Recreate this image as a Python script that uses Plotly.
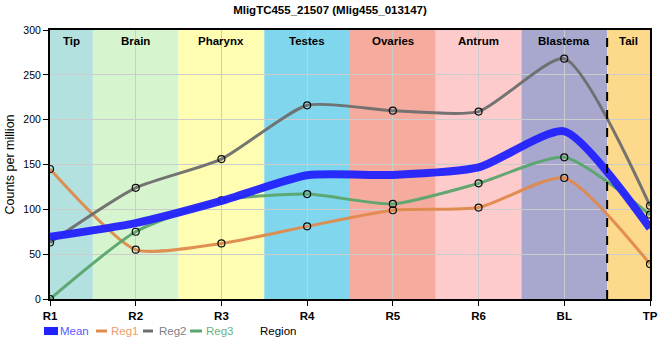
import plotly.graph_objects as go

categories = ["R1", "R2", "R3", "R4", "R5", "R6", "BL", "TP"]
reg1 = [145, 55, 62, 81, 99, 102, 135, 39]
reg2 = [63, 124, 156, 216, 210, 209, 268, 104]
reg3 = [0, 75, 110, 117, 106, 129, 158, 94]
mean = [round((a + b + c) / 3, 2) for a, b, c in zip(reg1, reg2, reg3)]

region_names = ["Tip", "Brain", "Pharynx", "Testes", "Ovaries", "Antrum", "Blastema", "Tail"]
region_spans = [(0, 0.5), (0.5, 1.5), (1.5, 2.5), (2.5, 3.5), (3.5, 4.5), (4.5, 5.5), (5.5, 6.5), (6.5, 7)]
region_colors = ["#b3e1df", "#d6f5cf", "#fefdb2", "#80d6ec", "#f6ab9f", "#fecbcd", "#a8a8cf", "#fdd98b"]

FONT = "Arial"

x = list(range(len(categories)))
fig = go.Figure()

for (x0, x1), c in zip(region_spans, region_colors):
    fig.add_shape(type="rect", xref="x", yref="paper", x0=x0, x1=x1, y0=0, y1=1,
                  fillcolor=c, line_width=0, layer="below")
for name, (x0, x1) in zip(region_names, region_spans):
    fig.add_annotation(x=(x0 + x1) / 2, y=1, xref="x", yref="paper", yanchor="top",
                       yshift=-3, text="<b>" + name + "</b>", showarrow=False,
                       font=dict(size=11.5, color="black", family=FONT))
fig.add_shape(type="line", xref="x", yref="paper", x0=6.5, x1=6.5, y0=0, y1=1,
              line=dict(color="black", width=2, dash="dash"))

series = [("Reg1", reg1, "#e08a4c", "#eea068"), ("Reg2", reg2, "#6e6e6e", "#808088"),
          ("Reg3", reg3, "#5aa66e", "#6cb27e")]
for name, vals, col, tcol in series:
    fig.add_trace(go.Scatter(
        x=x, y=vals, name=name, mode="lines+markers", showlegend=False,
        line=dict(color=col, width=3, shape="spline", smoothing=0.6),
        marker=dict(symbol="circle-open", size=7, color="black", line=dict(width=1.2, color="black")),
        opacity=0.95,
    ))
fig.add_trace(go.Scatter(
    x=x, y=mean, name="Mean", mode="lines", showlegend=False,
    line=dict(color="#2222ff", width=8, shape="spline", smoothing=0.6),
    opacity=0.95,
))

# custom compact legend (paper coordinates)
leg_y = -0.119
fig.add_shape(type="rect", xref="paper", yref="paper", x0=-0.01, x1=0.0133, y0=-0.134, y1=-0.104,
              fillcolor="#2222ff", line_width=0)
fig.add_annotation(x=0.014, y=leg_y, xref="paper", yref="paper", xanchor="left", yanchor="middle",
                   text="Mean", showarrow=False, font=dict(size=11.5, color="#5a5aff", family=FONT))
leg_pos = [(0.0767, 0.095, 0.099), (0.155, 0.1717, 0.179), (0.2333, 0.2533, 0.257)]
for (name, vals, col, tcol), (lx0, lx1, tx) in zip(series, leg_pos):
    fig.add_shape(type="line", xref="paper", yref="paper", x0=lx0, x1=lx1, y0=leg_y, y1=leg_y,
                  line=dict(color=col, width=3))
    fig.add_annotation(x=tx, y=leg_y, xref="paper", yref="paper", xanchor="left", yanchor="middle",
                       text=name, showarrow=False, font=dict(size=11.5, color=tcol, family=FONT))
fig.add_annotation(x=0.38, y=leg_y, xref="paper", yref="paper", xanchor="center", yanchor="middle",
                   text="Region", showarrow=False, font=dict(size=11.5, color="black", family=FONT))

fig.update_layout(
    width=660, height=360,
    margin=dict(l=50, r=10, t=30, b=61, autoexpand=False),
    paper_bgcolor="white", plot_bgcolor="white",
    font=dict(family=FONT, color="black"),
    title=dict(text="<b>MligTC455_21507 (Mlig455_013147)</b>", x=0.5, xanchor="center",
               y=0.972, yanchor="middle", font=dict(size=11.5, family=FONT)),
    showlegend=False,
)
fig.update_xaxes(
    tickmode="array", tickvals=x, ticktext=["<b>" + c + "</b>" for c in categories],
    range=[0, 7], showgrid=True, gridcolor="#cccccc", gridwidth=1, automargin=False,
    showline=True, linecolor="black", linewidth=2, mirror=True,
    ticks="outside", ticklen=5, tickcolor="black", tickfont=dict(size=11.5, family=FONT),
    zeroline=False,
)
fig.update_yaxes(
    range=[0, 300], tickvals=[0, 50, 100, 150, 200, 250, 300], automargin=False,
    showgrid=True, gridcolor="#cccccc", gridwidth=1,
    showline=True, linecolor="black", linewidth=2, mirror=True,
    ticks="outside", ticklen=5, tickcolor="black", tickfont=dict(size=10.5, family=FONT),
    title=dict(text="Counts per million", font=dict(size=12.5), standoff=6), zeroline=False,
)

fig.write_html("out.html", config={"displayModeBar": False},
               post_script="document.body.style.margin='0';")
